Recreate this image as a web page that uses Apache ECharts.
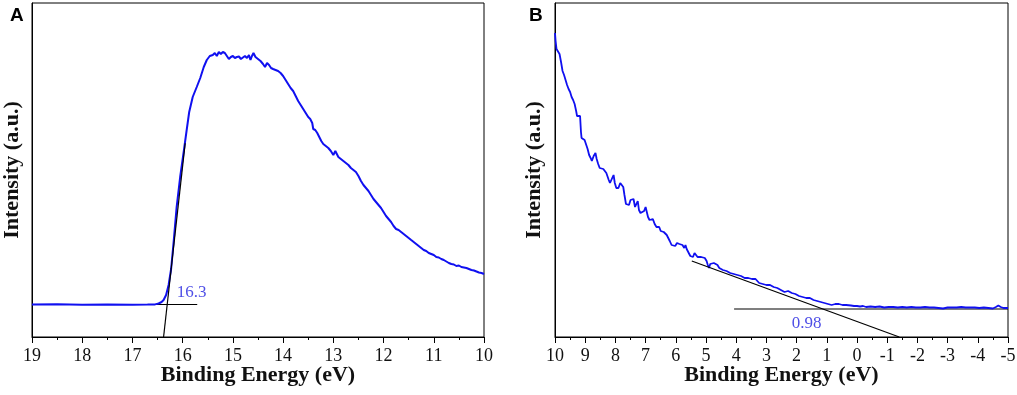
<!DOCTYPE html>
<html><head><meta charset="utf-8">
<script src="https://cdn.jsdelivr.net/npm/echarts@6/dist/echarts.min.js"></script>
<style>html,body{margin:0;padding:0;background:#fff}#c{width:1017px;height:395px}</style>
</head><body><div id="c"></div>
<script>
// Panel A: binding energy (eV) and intensity (a.u.)
const xA = [19,18.5,18,17.5,17,16.7,16.55,16.48,16.42,16.38,16.33,16.28,16.23,16.18,16.12,16.05,15.98,15.92,15.87,15.80,15.72,15.65,15.58,15.52,15.46,15.40,15.36,15.32,15.28,15.24,15.20,15.16,15.12,15.08,15.04,15.00,14.96,14.92,14.88,14.84,14.80,14.76,14.72,14.68,14.65,14.62,14.59,14.55,14.50,14.45,14.40,14.36,14.32,14.28,14.24,14.20,14.15,14.10,14.05,14.00,13.95,13.90,13.85,13.80,13.75,13.70,13.65,13.60,13.55,13.50,13.46,13.42,13.40,13.36,13.32,13.28,13.24,13.20,13.15,13.10,13.05,13.00,12.96,12.93,12.90,12.85,12.80,12.75,12.70,12.65,12.60,12.55,12.50,12.45,12.40,12.35,12.30,12.25,12.20,12.15,12.10,12.05,12.00,11.95,11.90,11.85,11.80,11.75,11.70,11.65,11.60,11.55,11.50,11.45,11.40,11.35,11.30,11.25,11.20,11.15,11.10,11.05,11.00,10.95,10.90,10.85,10.80,10.75,10.70,10.65,10.60,10.55,10.50,10.45,10.40,10.35,10.30,10.25,10.20,10.15,10.10,10.05,10.00];
const yA = [32.5,32.8,32.3,32.6,32.2,32.4,32.6,33.5,35,37,42,52,68,95,130,160,185,207,225,240,250,259,270,277,281,282,284,281,285,283,285,284,281,278,280,281,279,280,280.5,278,279.5,281,279,282,277,281,284,280,278,276,273,270,274,272,269,268,267,266,264,261,257,253,249,246,241,236,232,228,224,220,218,214,208,207,204,200,196,193,191,189,186,182,186,183,180,178,176,174,172,169,167,165,161,156,152,149,146,142,138,135,132,129,125,121,118,115,111,108,107,105,103,101,99,97,95,93,91,89,87,86,84,83,82,80,79.5,78,77,75.5,74,73,72.5,71,71.5,70,69.5,69,68,67,66.5,65.5,64.5,64,63];
// Panel A guide lines and label
const tangentA = [[16.38,0],[15.95,193.7]];
const baseA = [[19,32.5],[15.71,32.5]];
const labelA = {x:15.82, y:44, text:'16.3'};

// Panel B
const xB = [10.00,9.98,9.95,9.90,9.85,9.80,9.75,9.70,9.65,9.60,9.55,9.50,9.45,9.40,9.35,9.30,9.27,9.22,9.17,9.14,9.12,9.08,9.02,8.97,8.92,8.87,8.82,8.78,8.72,8.66,8.62,8.57,8.52,8.46,8.40,8.34,8.30,8.26,8.22,8.18,8.12,8.06,8.02,7.97,7.90,7.84,7.78,7.74,7.70,7.65,7.60,7.55,7.50,7.45,7.40,7.35,7.30,7.26,7.22,7.17,7.12,7.05,7.00,6.96,6.92,6.87,6.82,6.76,6.70,6.64,6.60,6.55,6.50,6.44,6.40,6.35,6.30,6.25,6.20,6.14,6.08,6.02,5.96,5.92,5.88,5.82,5.78,5.72,5.68,5.64,5.58,5.52,5.48,5.43,5.38,5.33,5.28,5.22,5.16,5.10,5.04,4.98,4.94,4.90,4.86,4.80,4.74,4.68,4.62,4.56,4.50,4.44,4.38,4.32,4.26,4.20,4.14,4.08,4.02,3.96,3.90,3.84,3.78,3.72,3.66,3.60,3.54,3.48,3.42,3.36,3.30,3.24,3.18,3.12,3.06,3.00,2.94,2.88,2.82,2.76,2.70,2.64,2.58,2.52,2.46,2.40,2.34,2.28,2.22,2.16,2.10,2.04,1.98,1.92,1.86,1.80,1.74,1.68,1.62,1.56,1.50,1.44,1.38,1.32,1.26,1.20,1.14,1.08,1.02,0.96,0.90,0.84,0.78,0.72,0.66,0.60,0.54,0.48,0.42,0.36,0.30,0.20,0.10,0.00,-0.10,-0.20,-0.30,-0.45,-0.60,-0.75,-0.90,-1.05,-1.20,-1.35,-1.50,-1.65,-1.80,-1.95,-2.10,-2.25,-2.40,-2.55,-2.70,-2.85,-3.00,-3.15,-3.30,-3.45,-3.60,-3.75,-3.90,-4.05,-4.20,-4.35,-4.50,-4.60,-4.68,-4.76,-4.85,-5.00];
const yB = [304,296,288,286,283,275,266,262,257,252,248,245,240,237,233,226,221,223,221,205,199,198,197,195,188,182,179,176,181,184,178,173,169,168,168,166,164,165,157,154,158,162,154,149,149,154,154,150,142,133,134,132,137,135,138,130,128,136,127,124,123,126,130,129,120,117,116,118,113,110,111,110,106,107,105,103,102,99,96,92,90,91,94,92,93,95,92,89,92,88,86,81,82,80,84,82,80,79,80,78,79,76,72,69,73,72,74,73,72,69,70,67,68,66,66,64,65,63,61,62,60,61,62,59,58,59,57,58,56,58,56,54,55,53,54,52,53,52,51,50,51,49,48,47,46,45,47,46,45,44,45,43,42,41,42,40,41,39,38,39,38,37,38,36,37,35,35,34,35,33,34,32,34,33,31,33,32,32,31,32,31,31.5,31,31,30.5,31,30,30.5,30,30.5,29.5,30,30,29.5,30,29.5,30,29.5,29.5,30,29.5,29.5,29,28.5,29.5,29.5,29.5,30,29.5,29.5,29.5,29,29.5,29,28.5,30,31.5,30,29,29];
const tangentB = [[5.47,76],[-1.40,0]];
const baseB = [[4.07,28],[-5,28]];
const labelB = {x:1.67, y:13.7, text:'0.98'};

const xTicksA = {min:10, max:19};
const xTicksB = {min:-5, max:10};
const yRange = {min:0, max:334};

const zip = (xs, ys) => xs.map((x,i)=>[x, ys[i]]);
const serif = '"Liberation Serif","Times New Roman",serif';
const blue = '#1010f0';

function xAxis(idx, r){
  return {
    gridIndex: idx, type:'value', min:r.min, max:r.max, interval:1, inverse:true,
    axisLine:{show:true, onZero:false, lineStyle:{color:'#000', width:1}},
    axisTick:{show:true, inside:false, length:6, lineStyle:{color:'#000'}},
    minorTick:{show:true, splitNumber:2, length:3, lineStyle:{color:'#000'}},
    splitLine:{show:false},
    axisLabel:{color:'#111', fontFamily:serif, fontSize:18, margin:10},
    name:'Binding Energy (eV)', nameLocation:'middle', nameGap:27, nameMoveOverlap:false,
    nameTextStyle:{fontFamily:serif, fontWeight:'bold', fontSize:22, color:'#111', verticalAlign:'top'}
  };
}
function yAxis(idx, gap){
  return {
    gridIndex: idx, type:'value', min:yRange.min, max:yRange.max,
    axisLine:{show:true, onZero:false, lineStyle:{color:'#000'}},
    axisTick:{show:false}, axisLabel:{show:false}, splitLine:{show:false},
    name:'Intensity (a.u.)', nameLocation:'middle', nameGap:gap, nameRotate:90, nameMoveOverlap:false,
    nameTextStyle:{fontFamily:serif, fontWeight:'bold', fontSize:22, color:'#111'}
  };
}
function lineS(idx, data, color, width, z){
  return {type:'line', xAxisIndex:idx, yAxisIndex:idx, data, showSymbol:false, symbol:'none',
    lineStyle:{color, width}, silent:true, animation:false, z};
}
function labelS(idx, l){
  return {type:'scatter', xAxisIndex:idx, yAxisIndex:idx, data:[[l.x,l.y]], symbolSize:0, silent:true, animation:false,
    label:{show:true, position:'inside', formatter:l.text, color:'#2222e0', fontFamily:serif, fontSize:17}};
}

const chart = echarts.init(document.getElementById('c'), null, {renderer:'canvas'});
chart.setOption({
  animation:false,
  backgroundColor:'#fff',
  title:[
    {text:'A', left:5, top:1, textStyle:{fontFamily:'"Liberation Sans",Arial,sans-serif', fontWeight:'bold', fontSize:19, color:'#000'}},
    {text:'B', left:524, top:1, textStyle:{fontFamily:'"Liberation Sans",Arial,sans-serif', fontWeight:'bold', fontSize:19, color:'#000'}}
  ],
  grid:[
    {left:32, right:533, top:3, bottom:58, show:true, borderColor:'#000', borderWidth:1, backgroundColor:'transparent', containLabel:false, outerBoundsMode:'none'},
    {left:555, right:9, top:3, bottom:58, show:true, borderColor:'#000', borderWidth:1, backgroundColor:'transparent', containLabel:false, outerBoundsMode:'none'}
  ],
  xAxis:[xAxis(0, xTicksA), xAxis(1, xTicksB)],
  yAxis:[yAxis(0, 9), yAxis(1, 10)],
  series:[
    lineS(0, baseA, '#000', 1.2, 2),
    lineS(0, tangentA, '#000', 1.2, 4),
    lineS(0, zip(xA,yA), blue, 2, 3),
    labelS(0, labelA),
    lineS(1, baseB, '#000', 1.2, 2),
    lineS(1, tangentB, '#000', 1.2, 4),
    lineS(1, zip(xB,yB), blue, 1.8, 3),
    labelS(1, labelB)
  ]
});
</script></body></html>
